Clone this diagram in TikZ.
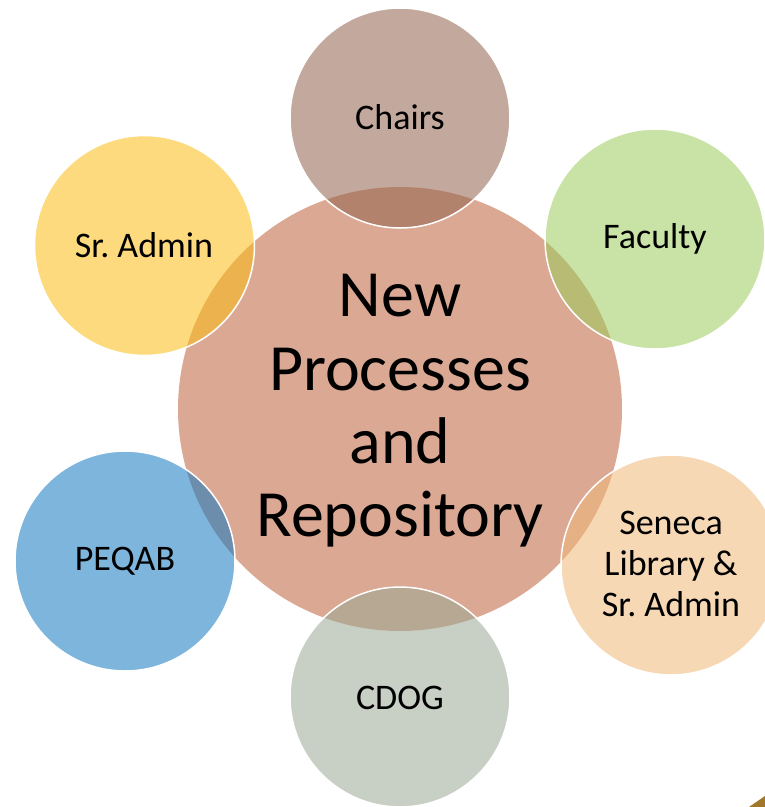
\documentclass[tikz,border=0pt]{standalone}
\usepackage{fontspec}
\setmainfont{Carlito}
\frenchspacing
\definecolor{bigc}{RGB}{219,168,148}
\definecolor{chairsc}{RGB}{146,99,77}
\definecolor{sradminc}{RGB}{251,188,19}
\definecolor{facultyc}{RGB}{155,204,91}
\definecolor{senecac}{RGB}{239,184,119}
\definecolor{cdogc}{RGB}{155,168,148}
\definecolor{peqabc}{RGB}{20,120,193}
\definecolor{goldc}{RGB}{160,120,40}
\tikzset{
  bigcircle/.style={circle,fill=bigc,minimum size=444pt,inner sep=0pt},
  smallcircle/.style={circle,fill=#1,fill opacity=0.55,draw=white,line width=1.5pt,minimum size=220pt,inner sep=0pt},
  bigtext/.style={align=center,font=\fontsize{66pt}{73.4pt}\selectfont},
  smalltext/.style={align=center,font=\frenchspacing\fontsize{36pt}{41pt}\selectfont}
}
\begin{document}
\begin{tikzpicture}[x=1pt,y=-1pt]
\useasboundingbox (0,0) rectangle (765,807);
\node[bigcircle] (center) at (400,409) {};
\node[smallcircle=chairsc] (chairs) at (400,118) {};
\node[smallcircle=facultyc] (faculty) at (655,239) {};
\node[smallcircle=senecac] (seneca) at (671,565) {};
\node[smallcircle=cdogc] (cdog) at (400,697) {};
\node[smallcircle=peqabc] (peqab) at (125,561) {};
\node[smallcircle=sradminc] (sradmin) at (144.5,245.5) {};
\node[bigtext] (centertext) at (400,411) {New\\Processes\\and\\Repository};
\node[smalltext] (chairstext) at (400,117) {Chairs};
\node[smalltext] (facultytext) at (655,239) {Faculty};
\node[smalltext] (senecatext) at (671,564) {Seneca\\Library \&\\Sr. Admin};
\node[smalltext] (cdogtext) at (400,698) {CDOG};
\node[smalltext] (peqabtext) at (125,561) {PEQAB};
\node[smalltext] (sradmintext) at (144,245) {Sr. Admin};
\fill[goldc] (749,807) -- (765,796) -- (765,807) -- cycle;
\end{tikzpicture}
\end{document}
